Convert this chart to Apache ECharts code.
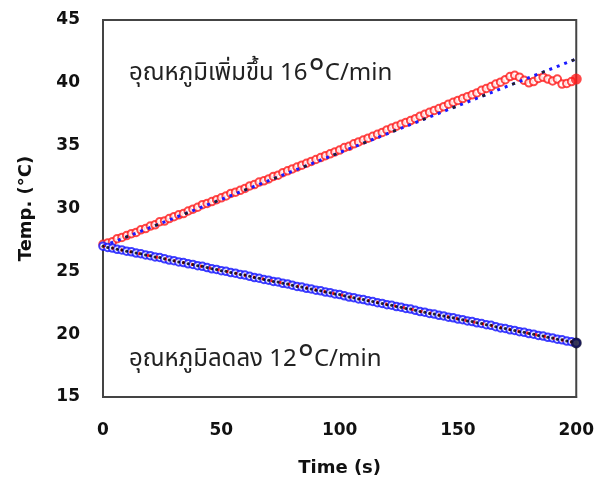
<!DOCTYPE html>
<html>
<head>
<meta charset="utf-8">
<script src="https://cdn.jsdelivr.net/npm/echarts@6/dist/echarts.min.js"></script>
<style>
  html, body { margin: 0; padding: 0; background: #fff; }
  #chart { width: 597px; height: 489px; }
</style>
</head>
<body>
<div id="chart"></div>
<script>
// time (s), one reading every 2 s
const timeSec = [0,2,4,6,8,10,12,14,16,18,20,22,24,26,28,30,32,34,36,38,40,42,44,46,48,50,
  52,54,56,58,60,62,64,66,68,70,72,74,76,78,80,82,84,86,88,90,92,94,96,98,100,
  102,104,106,108,110,112,114,116,118,120,122,124,126,128,130,132,134,136,138,140,142,144,146,148,150,
  152,154,156,158,160,162,164,166,168,170,172,174,176,178,180,182,184,186,188,190,192,194,196,198,200];

// heating run (°C)
const heatTemp = [27.15,27.25,27.35,27.6,27.7,27.85,28.0,28.1,28.3,28.4,28.6,28.7,28.95,29.0,29.2,29.35,29.5,29.6,29.8,29.95,
  30.1,30.3,30.4,30.55,30.7,30.85,31.0,31.2,31.3,31.45,31.6,31.8,31.9,32.1,32.2,32.35,32.55,32.65,32.85,33.0,
  33.15,33.3,33.45,33.6,33.75,33.9,34.05,34.2,34.35,34.5,34.65,34.85,34.95,35.15,35.3,35.45,35.6,35.75,35.9,36.05,
  36.25,36.4,36.55,36.7,36.85,37.0,37.15,37.35,37.5,37.65,37.8,37.95,38.1,38.3,38.45,38.6,38.75,38.9,39.05,39.2,
  39.4,39.55,39.7,39.9,40.05,40.25,40.5,40.6,40.45,40.2,40.0,40.1,40.35,40.45,40.3,40.15,40.3,39.9,39.95,40.1,40.3];

// cooling run (°C)
const coolTemp = [27.0,26.9,26.85,26.75,26.7,26.6,26.55,26.45,26.4,26.3,26.25,26.15,26.1,26.0,25.9,25.85,25.75,25.7,25.6,25.55,
  25.45,25.4,25.3,25.2,25.15,25.05,25.0,24.9,24.85,24.75,24.7,24.6,24.5,24.45,24.35,24.3,24.2,24.15,24.05,24.0,
  23.9,23.8,23.75,23.65,23.6,23.5,23.45,23.35,23.3,23.2,23.15,23.05,22.95,22.9,22.8,22.75,22.65,22.6,22.5,22.45,
  22.35,22.3,22.2,22.15,22.05,22.0,21.9,21.8,21.75,21.65,21.6,21.5,21.45,21.35,21.3,21.2,21.15,21.05,21.0,20.9,
  20.85,20.75,20.7,20.6,20.5,20.45,20.35,20.3,20.2,20.15,20.05,20.0,19.9,19.85,19.75,19.7,19.6,19.55,19.45,19.4,19.3];

// linear fits: [time, temp] end points
const heatFit = [[0, 27.0], [200, 41.9]];
const coolFit = [[0, 27.0], [200, 19.3]];

const xTicks = [0, 50, 100, 150, 200];
const yTicks = [15, 20, 25, 30, 35, 40, 45];

const heatLabel = 'อุณหภูมิเพิ่มขึ้น 16';
const coolLabel = 'อุณหภูมิลดลง 12';

const chart = echarts.init(document.getElementById('chart'));

const pairs = (ys) => ys.map((y, i) => [timeSec[i], y]);

// last reading is drawn as a bigger filled dot
const withEndDot = (ys, color) => {
  const d = pairs(ys);
  const last = d.length - 1;
  d[last] = { value: d[last], symbol: 'circle', symbolSize: 11, itemStyle: { color: color, borderWidth: 0 } };
  return d;
};

const tickFont = { fontFamily: 'DejaVu Sans', fontWeight: 'bold', fontSize: 17, color: '#111' };
const thaiFont = 'Noto Sans Thai, Noto Sans, DejaVu Sans, sans-serif';

const annot = (txt, top) => ({
  type: 'text',
  left: 129,
  top: top,
  style: {
    text: '{t|' + txt + '}{d|°}{t|C/min}',
    rich: {
      t: { fontFamily: thaiFont, fontSize: 24, lineHeight: 34, fill: '#222' },
      d: { fontFamily: 'Noto Sans', fontSize: 38, lineHeight: 34, fill: '#222', padding: [0, 0, 0, 1] }
    }
  }
});

const option = {
  animation: false,
  grid: { left: 103, right: 20, top: 20, bottom: 92, show: true, borderColor: '#444', borderWidth: 2 },
  xAxis: {
    type: 'value', min: xTicks[0], max: xTicks[xTicks.length - 1], interval: 50,
    name: 'Time (s)', nameLocation: 'middle', nameGap: 62,
    nameTextStyle: { fontFamily: 'DejaVu Sans', fontWeight: 'bold', fontSize: 18, color: '#111' },
    axisLine: { lineStyle: { color: '#444', width: 2 } },
    axisTick: { show: false },
    splitLine: { show: false },
    axisLabel: Object.assign({ margin: 25 }, tickFont)
  },
  yAxis: {
    type: 'value', min: yTicks[0], max: yTicks[yTicks.length - 1], interval: 5,
    name: 'Temp. (°C)', nameLocation: 'middle', nameGap: 68, nameRotate: 90,
    nameTextStyle: { fontFamily: 'DejaVu Sans', fontWeight: 'bold', fontSize: 18, color: '#111' },
    axisLine: { lineStyle: { color: '#444', width: 2 } },
    axisTick: { show: false },
    splitLine: { show: false },
    axisLabel: Object.assign({ margin: 23 }, tickFont)
  },
  series: [
    {
      name: 'heating', type: 'scatter', data: withEndDot(heatTemp, '#ff1a1a'),
      symbol: 'emptyCircle', symbolSize: 7.5,
      itemStyle: { color: '#ff1a1a', borderWidth: 2 }, z: 2
    },
    {
      name: 'heating fit', type: 'line', data: heatFit, showSymbol: false,
      lineStyle: { color: '#1a1aff', width: 3, type: [3, 5] }, z: 3
    },
    {
      name: 'heating fit shade', type: 'line', data: heatFit, showSymbol: false,
      lineStyle: { color: '#222', width: 2.5, type: [3, 29], dashOffset: 8 }, z: 3
    },
    {
      name: 'cooling', type: 'scatter', data: pairs(coolTemp),
      symbol: 'emptyCircle', symbolSize: 7.5,
      itemStyle: { color: '#1212ff', borderWidth: 2 }, z: 2
    },
    {
      name: 'cooling fit', type: 'line', data: coolFit, showSymbol: false,
      lineStyle: { color: '#ff1a1a', width: 3, type: [2, 7] }, z: 3
    },
    {
      name: 'cooling core', type: 'scatter', data: withEndDot(coolTemp, '#0a0a30'),
      symbol: 'circle', symbolSize: 3,
      itemStyle: { color: '#000' }, z: 4
    }
  ],
  graphic: [annot(heatLabel, 56), annot(coolLabel, 342)]
};

chart.setOption(option);
</script>
</body>
</html>
